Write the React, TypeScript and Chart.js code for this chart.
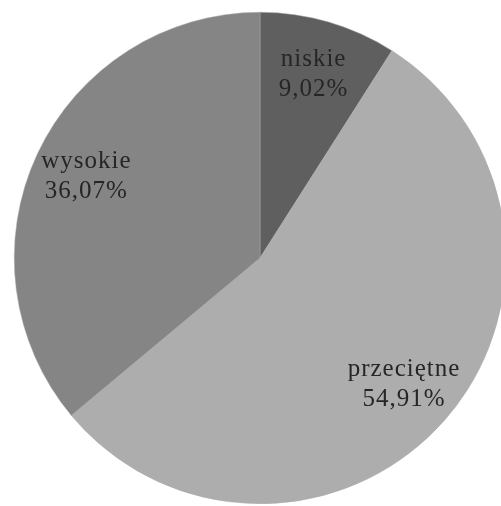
import React, { useEffect, useRef } from "react";
import { Chart, registerables } from "chart.js";

Chart.register(...registerables);

const categories: string[] = ["niskie", "przeciętne", "wysokie"];
const values: number[] = [9.02, 54.91, 36.07];
const valueLabels: string[] = ["9,02%", "54,91%", "36,07%"];
const colors: string[] = ["#5f5f5f", "#adadad", "#858585"];

const labelPlugin = {
  id: "sliceLabels",
  afterDatasetsDraw(chart: any) {
    const ctx = chart.ctx;
    const meta = chart.getDatasetMeta(0);
    ctx.save();
    ctx.font = "25px 'Liberation Serif', 'Times New Roman', serif";
    (ctx as any).letterSpacing = "1px";
    ctx.fillStyle = "#262626";
    ctx.textAlign = "center";
    ctx.textBaseline = "middle";
    meta.data.forEach((arc: any, i: number) => {
      const p = arc.getProps(["x", "y", "startAngle", "endAngle", "outerRadius"], true);
      const mid = (p.startAngle + p.endAngle) / 2;
      const r = p.outerRadius * 0.78;
      const cx = p.x + Math.cos(mid) * r;
      const cy = p.y + Math.sin(mid) * r;
      ctx.fillText(categories[i], cx, cy - 15);
      ctx.fillText(valueLabels[i], cx, cy + 15);
    });
    ctx.restore();
  },
};

export default function App() {
  const ref = useRef<HTMLCanvasElement | null>(null);
  useEffect(() => {
    if (!ref.current) return;
    const chart = new Chart(ref.current, {
      type: "pie",
      data: {
        labels: categories,
        datasets: [
          {
            data: values,
            backgroundColor: colors,
            borderColor: "#a8a8a8",
            borderWidth: 0.5,
          },
        ],
      },
      options: {
        responsive: false,
        animation: false,
        layout: { padding: 12 },
        plugins: {
          legend: { display: false },
          tooltip: { enabled: false },
        },
      },
      plugins: [labelPlugin],
    });
    return () => chart.destroy();
  }, []);
  return (
    <div
      style={{
        position: "fixed",
        left: 0,
        top: 0,
        width: 501,
        height: 506,
        overflow: "hidden",
        background: "#ffffff",
      }}
    >
      <canvas ref={ref} width={520} height={516} style={{ display: "block" }} />
    </div>
  );
}
